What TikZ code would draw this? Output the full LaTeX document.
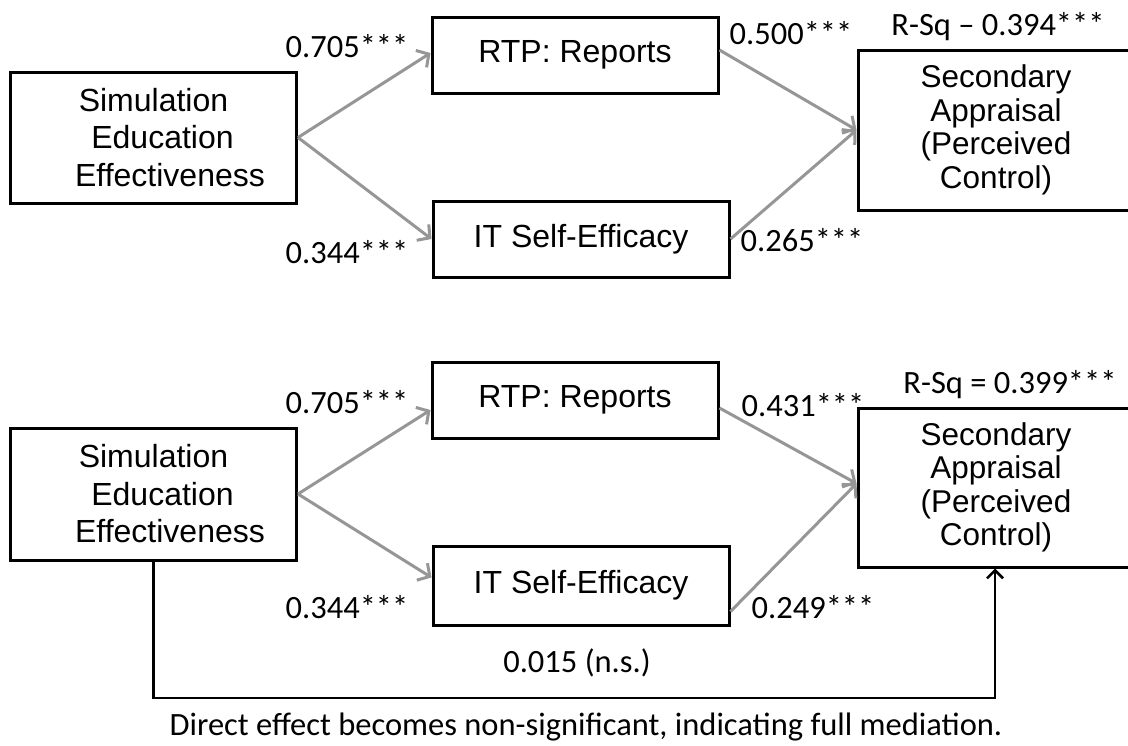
\documentclass[tikz,border=0pt]{standalone}
\usepackage{fontspec}
\setmainfont{Liberation Sans}
\newfontfamily\calfont{Carlito}
\usetikzlibrary{arrows.meta}
\definecolor{pathgray}{RGB}{150,150,150}
\begin{document}
\begin{tikzpicture}[x=1pt,y=-1pt,
  varbox/.style={draw=black,line width=3pt,rectangle,inner sep=0pt,align=center,
    font=\fontsize{32}{37.5}\selectfont},
  outbox/.style={varbox,font=\fontsize{31.5}{33.5}\selectfont},
  coef/.style={inner sep=0pt,font=\calfont\fontsize{32.5}{36}\selectfont},
  medarrow/.style={draw=pathgray,line width=3pt,
    -{Straight Barb[length=9pt,width=20pt,line width=3pt]}},
  directarrow/.style={draw=black,line width=2.5pt,
    -{Straight Barb[length=8pt,width=16pt,line width=2.5pt]}}
]
\useasboundingbox (0,0) rectangle (1128,745);

% ---------- model without the direct path ----------
\node[varbox,minimum width=286,minimum height=131] (simA) at (153.5,137.5)
  {Simulation\\\hspace*{18pt}Education\\\hspace*{33pt}Effectiveness};
\node[varbox,minimum width=286,minimum height=76] (rtpA) at (575,55) {RTP: Reports};
\node[varbox,minimum width=296,minimum height=76] (itA) at (581,239) {IT Self-Efficacy};
\node[outbox,minimum width=276,minimum height=160] (secA) at (996,130)
  {Secondary\\Appraisal\\(Perceived\\Control)};

\draw[medarrow] (simA.east) -- ([yshift=2pt]rtpA.west);
\draw[medarrow] (simA.east) -- (itA.west);
\draw[medarrow] ([yshift=5pt]rtpA.east) -- (secA.west);
\draw[medarrow] (itA.east) -- (secA.west);

\node[coef] (cA1) at (347,46) {0.705***};
\node[coef] (cA2) at (347,252) {0.344***};
\node[coef] (cA3) at (791,33) {0.500***};
\node[coef] (cA4) at (802,240) {0.265***};
\node[coef] (rA) at (998,27) {R-Sq – 0.394***};

% ---------- model with the direct path ----------
\node[varbox,minimum width=286,minimum height=132] (simB) at (153.5,494)
  {Simulation\\\hspace*{18pt}Education\\\hspace*{33pt}Effectiveness};
\node[varbox,minimum width=286,minimum height=76] (rtpB) at (575,400) {RTP: Reports};
\node[varbox,minimum width=296,minimum height=79] (itB) at (581,585.5) {IT Self-Efficacy};
\node[outbox,minimum width=276,minimum height=159] (secB) at (996,487.5)
  {Secondary\\Appraisal\\(Perceived\\Control)};

\draw[medarrow] (simB.east) -- ([yshift=-10pt]rtpB.west);
\draw[medarrow] (simB.east) -- ([yshift=8pt]itB.west);
\draw[medarrow] ([yshift=-8pt]rtpB.east) -- ([yshift=4pt]secB.west);
\draw[medarrow] ([yshift=-26pt]itB.east) -- ([yshift=4pt]secB.west);

\coordinate (dl) at (153.5,698);
\coordinate (dr) at (995,698);
\draw[directarrow] (simB.south) -- (dl) -- (dr) -- (secB.south -| dr);

\node[coef] (cB1) at (347,402) {0.705***};
\node[coef] (cB2) at (347,607) {0.344***};
\node[coef] (cB3) at (803,405) {0.431***};
\node[coef] (cB4) at (813,607) {0.249***};
\node[coef] (rB) at (1010,385) {R-Sq = 0.399***};
\node[coef] (ns) at (577,663) {0.015 (n.s.)};
\node[coef] (note) at (586,727) {Direct effect becomes non-significant, indicating full mediation.};
\end{tikzpicture}
\end{document}
